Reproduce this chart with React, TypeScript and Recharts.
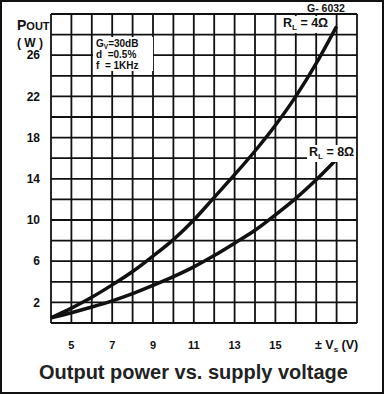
import React from 'react';
import { LineChart, Line, XAxis, YAxis, CartesianGrid } from 'recharts';

// supply voltage ±Vs (V)
const volts = [4, 5, 6, 7, 8, 9, 10, 11, 12, 13, 14, 15, 16, 17, 18];
// output power (W), RL = 4Ω
const pout4 = [0.5, 1.45, 2.5, 3.7, 5.0, 6.5, 8.1, 10.0, 12.2, 14.4, 16.7, 19.2, 22.0, 25.2, 28.8];
// output power (W), RL = 8Ω
const pout8 = [0.5, 1.0, 1.55, 2.15, 2.85, 3.65, 4.5, 5.45, 6.55, 7.75, 9.0, 10.5, 12.1, 13.9, 15.9];

const xGridTicks = [4, 5, 6, 7, 8, 9, 10, 11, 12, 13, 14, 15, 16, 17, 18, 19];
const yGridTicks = [0, 2, 4, 6, 8, 10, 12, 14, 16, 18, 20, 22, 24, 26, 28, 30];
const xLabels = [5, 7, 9, 11, 13, 15];
const yLabels = [2, 6, 10, 14, 18, 22, 26];

const data = volts.map((v, i) => ({ v, r4: pout4[i], r8: pout8[i] }));

const FONT = '"Liberation Sans", Arial, Helvetica, sans-serif';
const INK = '#111';

const abs = (left: number, top: number, extra: React.CSSProperties = {}): React.CSSProperties => ({
  position: 'absolute', left, top, fontFamily: FONT, color: INK, fontWeight: 700, lineHeight: 1, whiteSpace: 'nowrap', ...extra,
});

// subscript without growing the line box
const Sub = ({ children, size = 8, drop = 3 }: { children: React.ReactNode; size?: number; drop?: number }) => (
  <span style={{ fontSize: size, position: 'relative', top: drop, lineHeight: 0 }}>{children}</span>
);

export default function App() {
  return (
    <div style={{ position: 'relative', width: 384, height: 394, background: '#fff', overflow: 'hidden' }}>
      <style>{`body{margin:0}`}</style>
      <LineChart width={384} height={394} data={data} margin={{ top: 14, right: 27, left: 0, bottom: 0 }}>
        <CartesianGrid stroke={INK} strokeWidth={1.8} strokeOpacity={1} />
        <XAxis
          type="number" dataKey="v" domain={[4, 19]} ticks={xGridTicks} interval={0}
          tickFormatter={(t: number) => (xLabels.includes(t) ? String(t) : '')}
          axisLine={false} tickLine={false} height={71} tickMargin={12}
          tick={{ fill: INK, fontSize: 11, fontWeight: 700, fontFamily: FONT }}
        />
        <YAxis
          type="number" domain={[0, 30]} ticks={yGridTicks} interval={0}
          tickFormatter={(t: number) => (yLabels.includes(t) ? String(t) : '')}
          axisLine={false} tickLine={false} width={51} tickMargin={5}
          tick={{ fill: INK, fontSize: 12, fontWeight: 700, fontFamily: FONT }}
        />
        <Line type="monotone" dataKey="r4" stroke={INK} strokeWidth={3.5} dot={false} isAnimationActive={false} />
        <Line type="monotone" dataKey="r8" stroke={INK} strokeWidth={3.5} dot={false} isAnimationActive={false} />
      </LineChart>

      {/* axis titles */}
      <div style={abs(17, 17)}>
        <span style={{ fontSize: 14 }}>P</span><span style={{ fontSize: 11 }}>OUT</span>
      </div>
      <div style={abs(17, 37, { fontSize: 12 })}>( W )</div>
      <div style={abs(315, 339, { fontSize: 12.5 })}>
        ± V<Sub>s</Sub> (V)
      </div>

      <div style={abs(307, 3, { fontSize: 10.5 })}>G- 6032</div>

      {/* conditions box */}
      <div style={abs(93, 37, { width: 60, height: 34, background: '#fff', fontSize: 10, padding: '1px 0 0 3px', boxSizing: 'border-box', lineHeight: '11px' })}>
        <div>G<Sub size={6.5} drop={1.5}>V</Sub>=30dB</div>
        <div>d&nbsp; =0.5%</div>
        <div>f&nbsp; = 1KHz</div>
      </div>

      {/* curve labels */}
      <div style={abs(281, 16, { background: '#fff', fontSize: 12.5, padding: '1px 2px 3px' })}>
        R<Sub>L</Sub> = 4Ω
      </div>
      <div style={abs(307, 145, { background: '#fff', fontSize: 12.5, padding: '1px 2px 3px' })}>
        R<Sub>L</Sub> = 8Ω
      </div>

      <div style={abs(39, 362, { fontSize: 20, color: '#222' })}>Output power vs. supply voltage</div>

      <div style={{ position: 'absolute', inset: 0, border: `2px solid ${INK}`, boxSizing: 'border-box', pointerEvents: 'none' }} />
    </div>
  );
}
